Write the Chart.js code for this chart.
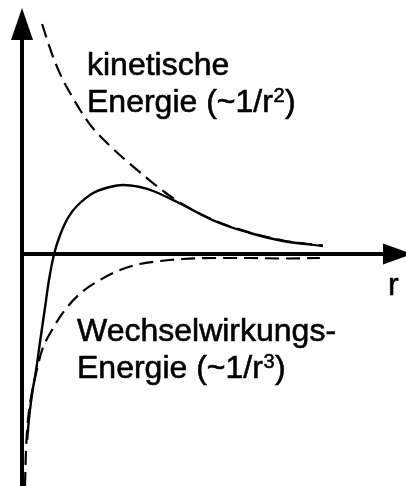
<!DOCTYPE html>
<html>
<head>
<meta charset="utf-8">
<script src="https://cdn.jsdelivr.net/npm/chart.js@4/dist/chart.umd.min.js"></script>
<style>
  html, body { margin: 0; padding: 0; background: #fff; }
  #wrap { width: 406px; height: 486px; }
</style>
</head>
<body>
<div id="wrap"><canvas id="c" width="406" height="486"></canvas></div>
<script>
// distance r (arbitrary units) and energy values for each curve
const rKinetic = [0.67, 1.0, 1.33, 1.67, 2.0, 2.33, 2.87, 3.43, 4.1, 4.77, 5.37, 6.5, 7.6, 8.7, 10.03];
const eKinetic = [9.2, 8.0, 7.05, 6.3, 5.64, 5.08, 4.4, 3.78, 3.1, 2.46, 1.98, 1.3, 0.86, 0.54, 0.34];

const rInteraction = [0.1, 0.13, 0.2, 0.33, 0.47, 0.67, 1.0, 1.43, 2.0, 2.6, 3.27, 3.93, 4.6, 5.37, 6.5, 7.6, 8.7, 9.93];
const eInteraction = [-9.28, -7.96, -6.64, -5.56, -4.76, -3.84, -3.04, -2.24, -1.52, -1.04, -0.64, -0.4, -0.28, -0.2, -0.16, -0.16, -0.18, -0.16];

const rTotal = [0.17, 0.23, 0.33, 0.47, 0.6, 0.77, 0.9, 1.07, 1.27, 1.53, 1.83, 2.37, 2.93, 3.37, 3.93, 4.37, 5.17, 6.5, 7.6, 8.7, 10.03];
const eTotal = [-7.44, -6.64, -5.64, -4.64, -3.52, -2.12, -1.04, 0, 0.76, 1.44, 1.92, 2.44, 2.68, 2.76, 2.68, 2.52, 2.08, 1.28, 0.84, 0.52, 0.32];

const kineticLabel = ["kinetische", "Energie (~1/r\u00B2)"];
const interactionLabel = ["Wechselwirkungs-", "Energie (~1/r\u00B3)"];
const axisLabel = "r";

const toPoints = (xs, ys) => xs.map((x, i) => ({ x: x, y: ys[i] }));

const FAMILY = '"Liberation Sans", Arial, sans-serif';
const SUPERSCRIPTS = { '\u00B2': '2', '\u00B3': '3' };

// draws a line of text; ² and ³ are set as raised, smaller digits
function drawText(ctx, text, x, y) {
  let cx = x;
  let run = '';
  const flush = () => {
    if (!run) return;
    ctx.font = '32px ' + FAMILY;
    ctx.strokeText(run, cx, y);
    ctx.fillText(run, cx, y);
    cx += ctx.measureText(run).width;
    run = '';
  };
  for (const ch of text) {
    if (SUPERSCRIPTS[ch]) {
      flush();
      ctx.font = '20px ' + FAMILY;
      ctx.strokeText(SUPERSCRIPTS[ch], cx + 0.5, y - 10.5);
      ctx.fillText(SUPERSCRIPTS[ch], cx + 0.5, y - 10.5);
      cx += ctx.measureText(SUPERSCRIPTS[ch]).width + 1;
    } else {
      run += ch;
    }
  }
  flush();
}

// coordinate axes with arrow heads, crossing at r = 0, E = 0
const axesPlugin = {
  id: 'axes',
  beforeDatasetsDraw(chart) {
    const ctx = chart.ctx;
    const x0 = chart.scales.x.getPixelForValue(0);
    const y0 = chart.scales.y.getPixelForValue(0);
    ctx.save();
    ctx.strokeStyle = '#000';
    ctx.fillStyle = '#000';
    ctx.lineWidth = 4;
    ctx.beginPath();
    ctx.moveTo(x0, chart.height);
    ctx.lineTo(x0, 38);
    ctx.moveTo(x0, y0);
    ctx.lineTo(385, y0);
    ctx.stroke();
    // vertical arrow head
    ctx.beginPath();
    ctx.moveTo(x0, 8);
    ctx.lineTo(x0 - 11, 40);
    ctx.lineTo(x0 + 11, 40);
    ctx.closePath();
    ctx.fill();
    // horizontal arrow head
    ctx.beginPath();
    ctx.moveTo(412, y0);
    ctx.lineTo(383, y0 - 10.5);
    ctx.lineTo(383, y0 + 10.5);
    ctx.closePath();
    ctx.fill();
    ctx.restore();
  },
  afterDraw(chart) {
    const ctx = chart.ctx;
    ctx.save();
    ctx.fillStyle = '#000';
    ctx.strokeStyle = '#000';
    ctx.lineWidth = 0.6;
    ctx.textBaseline = 'alphabetic';
    drawText(ctx, kineticLabel[0], 87, 75);
    drawText(ctx, kineticLabel[1], 87, 112);
    drawText(ctx, interactionLabel[0], 77, 341);
    drawText(ctx, interactionLabel[1], 77, 378);
    drawText(ctx, axisLabel, 388, 295);
    ctx.restore();
  }
};

new Chart(document.getElementById('c'), {
  type: 'line',
  data: {
    datasets: [
      {
        label: 'kinetische Energie',
        data: toPoints(rKinetic, eKinetic),
        borderColor: '#000',
        borderWidth: 2.2,
        borderDash: [14, 7],
        pointRadius: 0,
        cubicInterpolationMode: 'monotone',
        clip: false
      },
      {
        label: 'Wechselwirkungs-Energie',
        data: toPoints(rInteraction, eInteraction),
        borderColor: '#000',
        borderWidth: 2.2,
        borderDash: [14, 7],
        pointRadius: 0,
        cubicInterpolationMode: 'monotone',
        clip: false
      },
      {
        label: 'Gesamtenergie',
        data: toPoints(rTotal, eTotal),
        borderColor: '#000',
        borderWidth: 2.4,
        pointRadius: 0,
        tension: 0.4,
        clip: false
      }
    ]
  },
  options: {
    responsive: false,
    animation: false,
    events: [],
    layout: { padding: { left: 22, right: 0, top: 4, bottom: 0 } },
    plugins: { legend: { display: false }, tooltip: { enabled: false }, title: { display: false } },
    scales: {
      x: { type: 'linear', min: 0, max: 12.8, display: false },
      y: { type: 'linear', min: -9.28, max: 10, display: false }
    }
  },
  plugins: [axesPlugin]
});
</script>
</body>
</html>
